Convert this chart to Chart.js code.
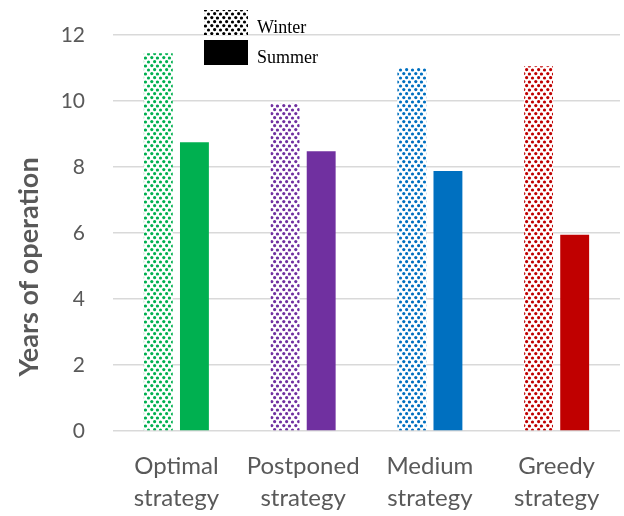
<!DOCTYPE html>
<html lang="en">
<head>
<meta charset="UTF-8" />
<title>Years of operation by strategy</title>
<script src="https://cdn.jsdelivr.net/npm/chart.js"></script>
<style>
  body { margin: 0; background: #fff; }
  #wrap { width: 624px; height: 516px; }
</style>
</head>
<body>
<div id="wrap"><canvas id="barChart" width="624" height="516"></canvas></div>
<script>
const categories = [["Optimal", "strategy"], ["Postponed", "strategy"], ["Medium", "strategy"], ["Greedy", "strategy"]];
const seriesNames = ["Winter", "Summer"];
const winterYears = [11.45, 9.92, 11.0, 11.05];
const summerYears = [8.75, 8.48, 7.88, 5.95];
const strategyColors = ["#00B050", "#7030A0", "#0070C0", "#C00000"];
const yTicks = [0, 2, 4, 6, 8, 10, 12];
const yTitle = "Years of operation";

// dotted fill used for the winter bars
function dotPattern(color) {
  const w = 12, h = 8;
  const tile = document.createElement("canvas");
  tile.width = w;
  tile.height = h;
  const c = tile.getContext("2d");
  c.fillStyle = "#fff";
  c.fillRect(0, 0, w, h);
  c.fillStyle = color;
  const dots = [[1.5, 2], [4.5, 6], [7.8, 1.6], [10.6, 5.6]];
  dots.forEach(([x, y]) => {
    for (let dx = -w; dx <= w; dx += w) {
      for (let dy = -h; dy <= h; dy += h) {
        c.beginPath();
        c.arc(x + dx, y + dy, 1.6, 0, Math.PI * 2);
        c.fill();
      }
    }
  });
  return c.createPattern(tile, "repeat");
}

// legend boxes in the top of the plot + the rotated y title
const extras = {
  id: "extras",
  afterDraw(chart) {
    const ctx = chart.ctx;
    ctx.save();
    chart.data.datasets.forEach((ds, i) => {
      const y = 10 + i * 30;
      ctx.fillStyle = i === 0 ? dotPattern("#000") : "#000";
      ctx.fillRect(204, y, 44, 25);
      ctx.fillStyle = "#000";
      ctx.font = "18px 'Liberation Serif', serif";
      ctx.textBaseline = "alphabetic";
      ctx.fillText(ds.label, 257, y + 23);
    });
    ctx.translate(29, 267);
    ctx.rotate(-Math.PI / 2);
    ctx.fillStyle = "#595959";
    ctx.font = "bold 27px Lato";
    ctx.textAlign = "center";
    ctx.textBaseline = "middle";
    ctx.fillText(yTitle, 0, 0);
    ctx.restore();
  },
};

const ctx = document.getElementById("barChart").getContext("2d");
new Chart(ctx, {
  type: "bar",
  data: {
    labels: categories,
    datasets: [
      {
        label: seriesNames[0],
        data: winterYears,
        backgroundColor: strategyColors.map((c) => dotPattern(c)),
      },
      {
        label: seriesNames[1],
        data: summerYears,
        backgroundColor: strategyColors,
      },
    ],
  },
  options: {
    responsive: false,
    animation: false,
    layout: { padding: { top: 35, right: 4, left: 0, bottom: 0 } },
    plugins: { legend: { display: false }, tooltip: { enabled: false } },
    datasets: { bar: { categoryPercentage: 0.57, barPercentage: 0.8 } },
    scales: {
      x: {
        grid: { display: false, drawTicks: false },
        border: { display: false },
        afterFit: (axis) => {
          axis.height = 85;
          axis.paddingLeft = 0;
          axis.paddingRight = 0;
        },
        ticks: {
          color: "#595959",
          font: { family: "Lato", size: 24, lineHeight: 1.35 },
          padding: 19,
          maxRotation: 0,
        },
      },
      y: {
        min: 0,
        max: 12,
        afterBuildTicks: (axis) => {
          axis.ticks = yTicks.map((v) => ({ value: v }));
        },
        afterFit: (axis) => {
          axis.width = 113;
          axis.paddingTop = 0;
          axis.paddingBottom = 0;
        },
        grid: { color: "#d9d9d9", lineWidth: 1.5, drawTicks: false },
        border: { display: false },
        ticks: {
          color: "#595959",
          font: { family: "Lato", size: 21 },
          padding: 28,
        },
      },
    },
  },
  plugins: [extras],
});
</script>
</body>
</html>
